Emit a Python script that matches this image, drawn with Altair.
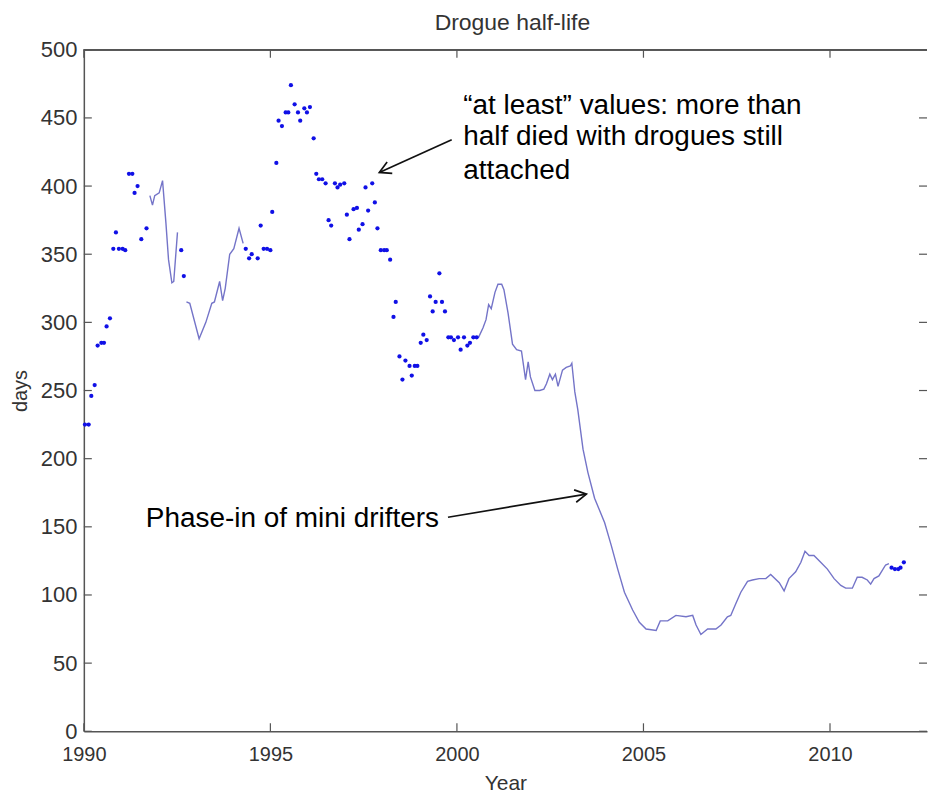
import altair as alt
import pandas as pd

# ---- data ----
# "at least" values (dots)
dot_year = [1990.03, 1990.13, 1990.20, 1990.29, 1990.37, 1990.47, 1990.54, 1990.61, 1990.70,
            1990.79, 1990.86, 1990.94, 1991.04, 1991.11, 1991.21, 1991.30, 1991.36, 1991.44,
            1991.54, 1991.68,
            1992.61, 1992.68,
            1994.34, 1994.43, 1994.50, 1994.66, 1994.74, 1994.82, 1994.91, 1995.00, 1995.05,
            1995.16, 1995.22, 1995.31, 1995.41, 1995.48, 1995.55, 1995.65, 1995.74, 1995.80,
            1995.91, 1995.98, 1996.06, 1996.16, 1996.23, 1996.30, 1996.39, 1996.48, 1996.56,
            1996.63, 1996.73, 1996.80, 1996.87, 1996.98, 1997.05, 1997.12, 1997.23, 1997.32,
            1997.37, 1997.47, 1997.55, 1997.62, 1997.73, 1997.80, 1997.87, 1997.96, 1998.05,
            1998.12, 1998.21, 1998.30, 1998.36, 1998.46, 1998.54, 1998.62, 1998.73, 1998.79,
            1998.87, 1998.94, 1999.03, 1999.10, 1999.19, 1999.28, 1999.35, 1999.43, 1999.53,
            1999.60, 1999.68, 1999.77, 1999.84, 1999.92, 2000.03, 2000.10, 2000.19, 2000.28,
            2000.35, 2000.44, 2000.53,
            2011.65, 2011.74, 2011.83, 2011.89, 2011.98]
dot_days = [225, 225, 246, 254, 283, 285, 285, 297, 303,
            354, 366, 354, 354, 353, 409, 409, 395, 400,
            361, 369,
            353, 334,
            354, 347, 350, 347, 371, 354, 354, 353, 381,
            417, 448, 444, 454, 454, 474, 460, 454, 448,
            457, 454, 458, 435, 409, 405, 405, 402, 375,
            371, 402, 399, 401, 402, 379, 361, 383, 384,
            368, 372, 399, 382, 402, 388, 369, 353, 353,
            353, 346, 304, 315, 275, 258, 272, 268, 261,
            268, 268, 285, 291, 287, 319, 308, 315, 336,
            315, 308, 289, 289, 287, 289, 280, 289, 283,
            285, 289, 289,
            120, 119, 119, 120, 124]

# measured half-life (line segments)
seg1_year = [1991.77, 1991.84, 1991.90, 1992.02, 1992.11, 1992.20, 1992.27, 1992.36, 1992.41, 1992.51]
seg1_days = [393, 386, 393, 395, 404, 373, 346, 329, 330, 366]

seg2_year = [1992.75, 1992.84, 1993.09, 1993.27, 1993.43, 1993.50, 1993.64, 1993.72, 1993.79,
             1993.91, 1994.02, 1994.16, 1994.27]
seg2_days = [315, 314, 288, 300, 314, 315, 330, 316, 325, 350, 354, 369, 358]

seg3_year = [2000.58, 2000.70, 2000.78, 2000.85, 2000.92, 2001.02, 2001.10, 2001.20, 2001.26,
             2001.37, 2001.49, 2001.60, 2001.73, 2001.84, 2001.91, 2001.97, 2002.09, 2002.22,
             2002.33, 2002.40, 2002.49, 2002.56, 2002.64, 2002.71, 2002.83, 2002.93, 2003.04,
             2003.08, 2003.16, 2003.24, 2003.38, 2003.51, 2003.69, 2003.96, 2004.14, 2004.31,
             2004.49, 2004.71, 2004.89, 2005.07, 2005.34, 2005.45, 2005.65, 2005.87, 2006.14,
             2006.32, 2006.41, 2006.54, 2006.72, 2006.94, 2007.08, 2007.25, 2007.34, 2007.48,
             2007.61, 2007.79, 2007.92, 2008.10, 2008.28, 2008.41, 2008.64, 2008.77, 2008.90,
             2009.08, 2009.22, 2009.33, 2009.44, 2009.57, 2009.75, 2009.93, 2010.11, 2010.29,
             2010.42, 2010.60, 2010.73, 2010.86, 2011.00, 2011.09, 2011.18, 2011.31, 2011.49,
             2011.58]
seg3_days = [289, 296, 302, 313, 310, 322, 328, 328, 324,
             307, 284, 280, 279, 258, 271, 260, 250, 250,
             251, 255, 262, 258, 262, 253, 265, 267, 268,
             270, 249, 236, 207, 190, 171, 153, 136, 119,
             102, 89, 80, 75, 74, 81, 81, 85, 84,
             85, 78, 71, 75, 75, 78, 84, 85, 94,
             102, 110, 111, 112, 112, 115, 109, 103, 112,
             117, 124, 132, 129, 129, 124, 119, 112, 107,
             105, 105, 113, 113, 111, 108, 112, 114, 122,
             123]

x_ticks = [1990, 1995, 2000, 2005, 2010]
y_ticks = [0, 50, 100, 150, 200, 250, 300, 350, 400, 450, 500]

note_lines = ["\u201cat least\u201d values: more than", "half died with drogues still", "attached",
              "Phase-in of mini drifters"]
note_year = [2000.17, 2000.17, 2000.17, 1991.66]
note_days = [459, 436, 411, 156]

arrow_from_year = [1999.86, 1999.76]
arrow_from_days = [434, 157]
arrow_to_year = [1997.92, 2003.47]
arrow_to_days = [410, 174]
arrow_angle = [155.7, 350.2]

# ---- tables ----
dots = pd.DataFrame({"year": dot_year, "days": dot_days})
lines = pd.concat([
    pd.DataFrame({"year": seg1_year, "days": seg1_days, "seg": "a"}),
    pd.DataFrame({"year": seg2_year, "days": seg2_days, "seg": "b"}),
    pd.DataFrame({"year": seg3_year, "days": seg3_days, "seg": "c"}),
])
xt = pd.DataFrame({"year": x_ticks})
yt = pd.DataFrame({"days": y_ticks})
notes = pd.DataFrame({"year": note_year, "days": note_days, "text": note_lines})
arrows = pd.DataFrame({"year": arrow_from_year, "days": arrow_from_days,
                       "year2": arrow_to_year, "days2": arrow_to_days})
heads = pd.DataFrame({"year": arrow_to_year, "days": arrow_to_days, "ang": arrow_angle})

W, H = 845, 683
FRAME = "#555555"

x_enc = alt.X("year:Q",
              scale=alt.Scale(domain=[1990, 2012.6], nice=False, zero=False),
              axis=alt.Axis(values=x_ticks, format="d", title="Year", labelFontSize=20,
                            titleFontSize=21, labelPadding=13, titlePadding=8, ticks=False,
                            tickSize=0, domainColor=FRAME, domainWidth=1.5, labelColor="#333",
                            titleColor="#333", titleFontWeight="normal", labelFlush=False,
                            grid=False))
y_enc = alt.Y("days:Q",
              scale=alt.Scale(domain=[0, 500], nice=False),
              axis=alt.Axis(values=y_ticks, title="days", labelFontSize=22, titleFontSize=20,
                            labelPadding=7, titlePadding=10, ticks=False, tickSize=0,
                            domainColor=FRAME, domainWidth=1.5, labelColor="#333",
                            titleColor="#333", titleFontWeight="normal", labelFlush=False,
                            grid=False))

line_layer = alt.Chart(lines).mark_line(color="#7474c8", strokeWidth=1.4).encode(
    x=x_enc, y=y_enc, detail="seg:N")
dot_layer = alt.Chart(dots).mark_circle(size=18, color="#1010e6", opacity=1).encode(x=x_enc, y=y_enc)

tick_style = dict(color=FRAME, strokeWidth=1.2)
left_ticks = alt.Chart(yt).mark_rule(**tick_style).encode(y=y_enc, x=alt.value(0), x2=alt.value(8))
right_ticks = alt.Chart(yt).mark_rule(**tick_style).encode(y=y_enc, x=alt.value(W - 8), x2=alt.value(W))
bottom_ticks = alt.Chart(xt).mark_rule(**tick_style).encode(x=x_enc, y=alt.value(H - 8), y2=alt.value(H))
top_ticks = alt.Chart(xt).mark_rule(**tick_style).encode(x=x_enc, y=alt.value(0), y2=alt.value(8))
top_frame = alt.Chart(xt).mark_rule(color=FRAME, strokeWidth=1.5).encode(
    x=alt.value(0), x2=alt.value(W), y=alt.value(0))

note_layer = alt.Chart(notes).mark_text(align="left", baseline="middle", fontSize=28,
                                        color="#000000").encode(x=x_enc, y=y_enc, text="text:N")
arrow_layer = alt.Chart(arrows).mark_rule(color="#111111", strokeWidth=1.7).encode(
    x=x_enc, y=y_enc, x2="year2:Q", y2="days2:Q")
head_layer = alt.Chart(heads).mark_point(shape="M -1 -0.55 L 0 0 L -1 0.55", filled=False,
                                         size=520, stroke="#111111", strokeWidth=1.7,
                                         opacity=1).encode(
    x=x_enc, y=y_enc, angle=alt.Angle("ang:Q", scale=None))

chart = alt.layer(
    line_layer, dot_layer, left_ticks, right_ticks, bottom_ticks, top_ticks, top_frame,
    arrow_layer, head_layer, note_layer
).properties(
    width=W, height=H,
    title=alt.Title("Drogue half-life", fontSize=23, fontWeight="normal", color="#333",
                    offset=4, dx=7, anchor="middle"),
    padding={"left": 2, "top": 3, "right": 0, "bottom": 0},
).configure(font="Liberation Sans").configure_view(stroke=None)

chart.save("out.html", embed_options={"renderer": "svg", "actions": False})
